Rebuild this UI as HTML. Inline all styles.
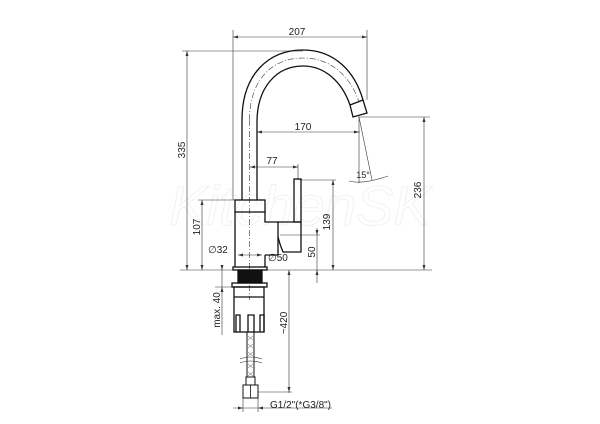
<!DOCTYPE html>
<html><head><style>html,body{margin:0;padding:0;background:#fff}svg{display:block}</style></head><body>
<svg width="600" height="424" viewBox="0 0 600 424" xmlns="http://www.w3.org/2000/svg" font-family="Liberation Sans, sans-serif" font-size="10" fill="none" stroke="#000">
<text x="300" y="225" font-size="56" font-style="italic" fill="none" stroke="#f2f2f2" stroke-width="1" text-anchor="middle">KitchenSK</text>
<g stroke-width="0.6" stroke="#333">
<line x1="233" y1="30" x2="233" y2="200"/><line x1="367" y1="30" x2="367" y2="100"/>
<line x1="233" y1="37" x2="367" y2="37"/>
<line x1="182" y1="51" x2="303" y2="51"/>
<line x1="187" y1="51" x2="187" y2="270"/>
<line x1="180" y1="270" x2="432" y2="270"/>
<line x1="358" y1="117" x2="430" y2="117"/>
<line x1="424" y1="117" x2="424" y2="270"/>
<line x1="257" y1="132" x2="360" y2="132"/>
<line x1="359" y1="117" x2="359" y2="183"/>
<line x1="359" y1="117" x2="372" y2="180"/>
<path d="M349,181 Q362,185 388,176"/>
<line x1="250" y1="167" x2="298" y2="167"/><line x1="298" y1="164" x2="298" y2="180"/>
<line x1="300" y1="180" x2="336" y2="180"/>
<line x1="333" y1="180" x2="333" y2="270"/>
<line x1="280" y1="235" x2="320" y2="235"/>
<line x1="317" y1="228" x2="317" y2="283"/>
<line x1="198" y1="200" x2="235" y2="200"/>
<line x1="202" y1="200" x2="202" y2="270"/>
<line x1="238" y1="255" x2="262" y2="255"/>
<line x1="222" y1="265" x2="222" y2="335"/>
<line x1="215" y1="287" x2="234" y2="287"/>
<line x1="289" y1="270" x2="289" y2="393"/>
<line x1="258" y1="392" x2="292" y2="392"/>
<line x1="233" y1="408" x2="332" y2="408"/>
<line x1="243" y1="398" x2="243" y2="412"/><line x1="258" y1="398" x2="258" y2="412"/>
<line x1="249.5" y1="120" x2="249.5" y2="300" stroke-dasharray="6,2,1,2"/>
<path d="M249.5,120 C249.5,80 272,58 303,58 C330,58 350,75 359,102" stroke-dasharray="6,2,1,2"/>
</g>
<g fill="#333" stroke="none">
<path d="M233,37 l5,-1.5 v3z M367,37 l-5,-1.5 v3z M187,51 l-1.5,5 h3z M187,270 l-1.5,-5 h3z M424,117 l-1.5,5 h3z M424,270 l-1.5,-5 h3z M257,132 l5,-1.5 v3z M359,132 l-5,-1.5 v3z M250,167 l5,-1.5 v3z M298,167 l-5,-1.5 v3z M333,180 l-1.5,5 h3z M333,270 l-1.5,-5 h3z M317,235 l-1.5,-5 h3z M317,270 l-1.5,5 h3z M202,200 l-1.5,5 h3z M202,270 l-1.5,-5 h3z M238,255 l5,-1.5 v3z M262,255 l-5,-1.5 v3z M222,270 l-1.5,-5 h3z M222,287 l-1.5,5 h3z M289,270 l-1.5,5 h3z M289,392 l-1.5,-5 h3z M243,408 l-5,-1.5 v3z M258,408 l5,-1.5 v3z"/>
</g>
<g stroke-width="1.3" stroke="#111">
<path d="M242,200 L242,120 C242,75 268,50 303,50 C335,50 355,72 363,100"/>
<path d="M257,200 L257,122 C257,88 276,66 303,66 C325,66 342,82 350,105"/>
<path d="M350,105 L363,100 L367,113 L353,117 Z"/>
<rect x="235" y="200" width="30" height="12"/>
<path d="M235,212 V267 M265,212 V222 H278 M265,255 V267"/>
<path d="M278,222 H301 V252 H283 Q280,245 278,237 Z"/>
<path d="M265,255 H278 V237"/>
<rect x="294" y="179" width="7" height="43"/>
<rect x="233" y="267" width="34" height="3"/>
<rect x="238" y="270" width="24" height="13" fill="#111"/>
<rect x="232" y="283" width="35" height="4"/>
<rect x="234" y="287" width="30" height="45"/>
<line x1="234" y1="297" x2="264" y2="297"/>
<path d="M236,332 V315 H240 V332 M248,332 V315 H254 V332 M260,332 V315 H264 V332"/>
<rect x="247" y="332" width="7" height="45" stroke-width="1"/>
<rect x="246" y="377" width="9" height="8" stroke-width="1"/>
<rect x="243" y="385" width="15" height="13" stroke-width="1"/>
<line x1="250.5" y1="385" x2="250.5" y2="398" stroke-width="0.8"/>
</g>
<path d="M248,336 l5,4 M248,344 l5,4 M248,352 l5,4 M248,364 l5,4 M248,372 l5,4 M253,336 l-5,4 M253,344 l-5,4 M253,352 l-5,4 M253,364 l-5,4 M253,372 l-5,4" stroke="#555" stroke-width="0.5"/>
<path d="M240,359 Q250,355 262,359 M240,363 Q250,359 262,363" stroke="#333" stroke-width="0.6"/>
<g fill="#222" stroke="none" font-size="10">
<text x="297" y="35" text-anchor="middle">207</text>
<text x="303" y="130" text-anchor="middle">170</text>
<text x="272" y="164" text-anchor="middle">77</text>
<text x="363" y="178" text-anchor="middle" font-size="9">15°</text>
<text x="268" y="261" font-size="10">∅50</text>
<text x="208" y="253" font-size="10">∅32</text>
<text x="270" y="408" font-size="10">G1/2"(*G3/8")</text>
<text transform="translate(185,150) rotate(-90)" text-anchor="middle">335</text>
<text transform="translate(421,190) rotate(-90)" text-anchor="middle">236</text>
<text transform="translate(200,227) rotate(-90)" text-anchor="middle">107</text>
<text transform="translate(330,222) rotate(-90)" text-anchor="middle">139</text>
<text transform="translate(315,252) rotate(-90)" text-anchor="middle">50</text>
<text transform="translate(220,310) rotate(-90)" text-anchor="middle">max. 40</text>
<text transform="translate(287,323) rotate(-90)" text-anchor="middle">~420</text>
</g>
</svg>
</body></html>
